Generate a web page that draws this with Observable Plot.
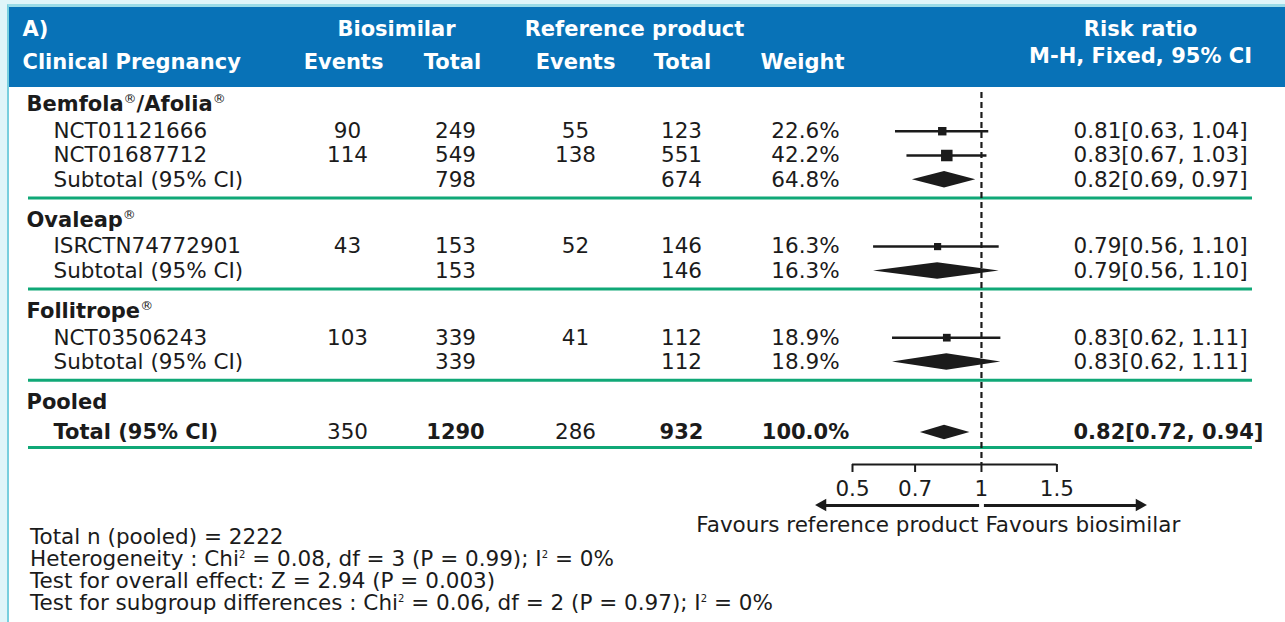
<!DOCTYPE html>
<html>
<head>
<meta charset="utf-8">
<script src="https://cdn.jsdelivr.net/npm/d3@7"></script>
<script src="https://cdn.jsdelivr.net/npm/@observablehq/plot@0.6"></script>
<style>
  html, body { margin: 0; padding: 0; background: #dff5f9; }
  #chart { position: relative; width: 1285px; height: 622px; overflow: hidden;
           font-family: "DejaVu Sans", Verdana, sans-serif; color: #1b1b1b; }
  #panel { position: absolute; left: 7px; top: 4px; right: 0; bottom: 0; background: #fff;
           border-left: 2px solid #78cfde; border-top: 3px solid #9adbe7; }
  #band { position: absolute; left: 9px; top: 7px; right: 0; height: 80px; background: #0872b7; }
  #chart svg { position: absolute; left: 0; top: 0; }
  #notes { position: absolute; left: 30px; top: 526px; font-size: 21.5px; line-height: 22px; white-space: nowrap; }
  #notes .sq { font-size: 10px; line-height: 0; vertical-align: 8px; }
</style>
</head>
<body>
<div id="chart">
  <div id="panel"></div>
  <div id="band"></div>
</div>
<script>
// ---------- data ----------
const groupNames = ["Bemfola®/Afolia®", "Ovaleap®", "Follitrope®"];

const studyIds   = ["NCT01121666", "NCT01687712", "ISRCTN74772901", "NCT03506243"];
const studyGroup = [0, 0, 1, 2];
const bioEvents  = [90, 114, 43, 103];
const bioTotal   = [249, 549, 153, 339];
const refEvents  = [55, 138, 52, 41];
const refTotal   = [123, 551, 146, 112];
const weights    = [22.6, 42.2, 16.3, 18.9];
const riskRatio  = [0.81, 0.83, 0.79, 0.83];
const ciLow      = [0.63, 0.67, 0.56, 0.62];
const ciHigh     = [1.04, 1.03, 1.10, 1.11];

const subBioTotal = [798, 153, 339];
const subRefTotal = [674, 146, 112];
const subWeight   = [64.8, 16.3, 18.9];
const subRatio    = [0.82, 0.79, 0.83];
const subLow      = [0.69, 0.56, 0.62];
const subHigh     = [0.97, 1.10, 1.11];

const pooledLabel    = "Pooled";
const totalBioEvents = 350;
const totalBioN      = 1290;
const totalRefEvents = 286;
const totalRefN      = 932;
const totalWeight    = 100.0;
const totalRatio     = 0.82;
const totalLow       = 0.72;
const totalHigh      = 0.94;

const axisTicks   = [0.5, 0.7, 1, 1.5];
const favourLeft  = "Favours reference product";
const favourRight = "Favours biosimilar";

const panelTag     = "A)";
const outcomeLabel = "Clinical Pregnancy";
const headerTop    = ["Biosimilar", "Reference product", "Risk ratio"];
const headerBottom = ["Events", "Total", "Events", "Total", "Weight"];
const headerMethod = "M-H, Fixed, 95% CI";

const notes = [
  "Total n (pooled) = 2222",
  "Heterogeneity : Chi² = 0.08, df = 3 (P = 0.99); I² = 0%",
  "Test for overall effect: Z = 2.94 (P = 0.003)",
  "Test for subgroup differences : Chi² = 0.06, df = 2 (P = 0.97); I² = 0%"
];

// ---------- layout ----------
const W = 1285, H = 622;
const FONT = '"DejaVu Sans", Verdana, sans-serif';
const INK = "#1b1b1b", GREEN = "#10a877", FS = 21.5, FS_HEAD = 21;
const COL = { left: 22, group: 26, label: 53, bioEv: 347, bioN: 455, refEv: 575, refN: 681, weight: 805, ratio: 1073, rule0: 28, rule1: 1252 };
const HEAD_COL = [396, 634, 1140];
const HEAD_COL2 = [343, 452, 575, 682, 802];
const ROW_PX = 24.29, TOP_PX = 104;

// vertical steps between consecutive row kinds (in text lines)
const GAP = { "head>study": 1.1, "study>study": 1, "study>sub": 1, "sub>sep": 0.75,
              "sep>head": 0.9, "head>total": 1.25, "total>sep": 0.62 };

const rows = [];
let pos = 0, prev = null;
function push(kind, d = {}) {
  if (prev) pos += GAP[prev + ">" + kind];
  rows.push({ kind, y: pos, ...d });
  prev = kind;
}
const ciText = (r, lo, hi) => `${r.toFixed(2)}[${lo.toFixed(2)}, ${hi.toFixed(2)}]`;

groupNames.forEach((g, gi) => {
  push("head", { label: g });
  studyIds.forEach((id, i) => {
    if (studyGroup[i] !== gi) return;
    push("study", { label: id, bioEv: bioEvents[i], bioN: bioTotal[i], refEv: refEvents[i], refN: refTotal[i],
                    w: weights[i], rr: riskRatio[i], lo: ciLow[i], hi: ciHigh[i] });
  });
  push("sub", { label: "Subtotal (95% CI)", bioN: subBioTotal[gi], refN: subRefTotal[gi],
                w: subWeight[gi], rr: subRatio[gi], lo: subLow[gi], hi: subHigh[gi] });
  push("sep");
});
push("head", { label: pooledLabel });
push("total", { label: "Total (95% CI)", bioEv: totalBioEvents, bioN: totalBioN, refEv: totalRefEvents, refN: totalRefN,
                w: totalWeight, rr: totalRatio, lo: totalLow, hi: totalHigh });
push("sep");

const lastSep = pos;
const yScale = { domain: [0, lastSep], range: [TOP_PX, TOP_PX + lastSep * ROW_PX], axis: null };

const heads = rows.filter(r => r.kind === "head");
const studies = rows.filter(r => r.kind === "study");
const subs = rows.filter(r => r.kind === "sub");
const totals = rows.filter(r => r.kind === "total");
const seps = rows.filter(r => r.kind === "sep");
const body = rows.filter(r => r.kind === "study" || r.kind === "sub");

const Y_HEAD1 = -3.09, Y_HEAD2 = -1.73, Y_METHOD = -2.0, Y_DASH_TOP = -0.49;
const Y_AXIS = lastSep + 0.7, Y_TICK_END = Y_AXIS + 0.33, Y_TICK_LABEL = lastSep + 1.73;
const Y_ARROW = lastSep + 2.39, Y_FAVOUR = lastSep + 3.21;

const txt = (data, opts) => Plot.text(data, { fontSize: FS, fill: INK, ...opts });
const headTxt = (data, opts) => Plot.text(data, { fontSize: FS_HEAD, fill: "#fff", fontWeight: "bold", text: d => d, ...opts });

// ---------- table columns ----------
const table = Plot.plot({
  width: W, height: H, margin: 0,
  x: { type: "identity", axis: null },
  y: yScale,
  style: { background: "transparent", fontFamily: FONT, overflow: "visible" },
  marks: [
    // header band text
    headTxt([panelTag], { x: COL.left, y: Y_HEAD1, textAnchor: "start" }),
    headTxt([outcomeLabel], { x: COL.left, y: Y_HEAD2, textAnchor: "start" }),
    headTxt(headerTop, { x: (d, i) => HEAD_COL[i], y: Y_HEAD1 }),
    headTxt(headerBottom, { x: (d, i) => HEAD_COL2[i], y: Y_HEAD2 }),
    headTxt([headerMethod], { x: HEAD_COL[2], y: Y_METHOD }),

    // group headings
    txt(heads, { x: COL.group, y: "y", text: "label", textAnchor: "start", fontWeight: "bold", fontSize: FS_HEAD }),

    // study and subtotal rows
    txt(body, { x: COL.label, y: "y", text: "label", textAnchor: "start" }),
    txt(studies, { x: COL.bioEv, y: "y", text: d => String(d.bioEv) }),
    txt(body, { x: COL.bioN, y: "y", text: d => String(d.bioN) }),
    txt(studies, { x: COL.refEv, y: "y", text: d => String(d.refEv) }),
    txt(body, { x: COL.refN, y: "y", text: d => String(d.refN) }),
    txt(body, { x: COL.weight, y: "y", text: d => d.w.toFixed(1) + "%" }),
    txt(body, { x: COL.ratio, y: "y", text: d => ciText(d.rr, d.lo, d.hi), textAnchor: "start" }),

    // pooled total row
    txt(totals, { x: COL.label, y: "y", text: "label", textAnchor: "start", fontWeight: "bold", fontSize: FS_HEAD }),
    txt(totals, { x: COL.bioEv, y: "y", text: d => String(d.bioEv) }),
    txt(totals, { x: COL.bioN, y: "y", text: d => String(d.bioN), fontWeight: "bold", fontSize: FS_HEAD }),
    txt(totals, { x: COL.refEv, y: "y", text: d => String(d.refEv) }),
    txt(totals, { x: COL.refN, y: "y", text: d => String(d.refN), fontWeight: "bold", fontSize: FS_HEAD }),
    txt(totals, { x: COL.weight, y: "y", text: d => d.w.toFixed(1) + "%", fontWeight: "bold", fontSize: FS_HEAD }),
    txt(totals, { x: COL.ratio, y: "y", text: d => ciText(d.rr, d.lo, d.hi), textAnchor: "start", fontWeight: "bold", fontSize: FS_HEAD }),

    // group separators
    Plot.ruleY(seps, { y: "y", x1: COL.rule0, x2: COL.rule1, stroke: GREEN, strokeWidth: 3 })
  ]
});

// ---------- forest plot (log risk ratio) ----------
const diamonds = [...subs, ...totals].flatMap((d, k) => {
  const h = d.kind === "total" ? 0.3 : 0.34;
  return [
    { z: k, x: d.lo, y1: d.y, y2: d.y },
    { z: k, x: d.rr, y1: d.y - h, y2: d.y + h },
    { z: k, x: d.hi, y1: d.y, y2: d.y }
  ];
});
const arrowTip = [0.41, 2.44];
const arrowHeads = arrowTip.flatMap((tip, k) => {
  const base = k === 0 ? tip * 1.062 : tip / 1.062;
  return [
    { z: k, x: tip, y1: Y_ARROW, y2: Y_ARROW },
    { z: k, x: base, y1: Y_ARROW - 0.26, y2: Y_ARROW + 0.26 }
  ];
});

const forest = Plot.plot({
  width: W, height: H, margin: 0,
  x: { type: "log", domain: [0.5, 1.5], range: [852, 1056.4], axis: null },
  y: yScale,
  r: { type: "sqrt", domain: [0, 100], range: [0, 10] },
  style: { background: "transparent", fontFamily: FONT, overflow: "visible" },
  marks: [
    // line of no effect
    Plot.ruleX([1], { y1: Y_DASH_TOP, y2: Y_AXIS, stroke: INK, strokeWidth: 2.2, strokeDasharray: "6,4" }),
    // study confidence intervals and weighted point estimates
    Plot.ruleY(studies, { y: "y", x1: "lo", x2: "hi", stroke: INK, strokeWidth: 2.5 }),
    Plot.dot(studies, { x: "rr", y: "y", r: "w", symbol: "square", fill: INK, stroke: null }),
    // subtotal and pooled diamonds
    Plot.areaY(diamonds, { x: "x", y1: "y1", y2: "y2", z: "z", fill: INK, curve: "linear" }),
    // axis
    Plot.ruleY([Y_AXIS], { x1: axisTicks[0], x2: axisTicks[axisTicks.length - 1], stroke: INK, strokeWidth: 2 }),
    Plot.ruleX(axisTicks, { x: d => d, y1: Y_AXIS, y2: Y_TICK_END, stroke: INK, strokeWidth: 2 }),
    txt(axisTicks, { x: d => d, y: Y_TICK_LABEL, text: d => String(d) }),
    // direction arrows
    Plot.ruleY([0], { y: () => Y_ARROW, x1: () => 0.99, x2: () => arrowTip[0] * 1.03, stroke: INK, strokeWidth: 3 }),
    Plot.ruleY([0], { y: () => Y_ARROW, x1: () => 1.016, x2: () => arrowTip[1] / 1.03, stroke: INK, strokeWidth: 3 }),
    Plot.areaY(arrowHeads, { x: "x", y1: "y1", y2: "y2", z: "z", fill: INK }),
    txt([favourLeft], { x: 1, y: Y_FAVOUR, text: d => d, textAnchor: "end", dx: -3 }),
    txt([favourRight], { x: 1, y: Y_FAVOUR, text: d => d, textAnchor: "start", dx: 4 })
  ]
});

// registered marks set as small raised glyphs
function raiseMarks(svg) {
  const ns = "http://www.w3.org/2000/svg";
  for (const t of svg.querySelectorAll("text")) {
    const s = t.textContent;
    if (!s.includes("®") || t.children.length) continue;
    const parts = s.split("®");
    t.textContent = "";
    parts.forEach((p, i) => {
      if (p) {
        const span = document.createElementNS(ns, "tspan");
        span.textContent = p;
        if (i > 0) span.setAttribute("dy", "8");
        t.appendChild(span);
      }
      if (i < parts.length - 1) {
        const r = document.createElementNS(ns, "tspan");
        r.textContent = "®";
        r.setAttribute("dy", "-8");
        r.setAttribute("font-size", "13");
        r.setAttribute("font-weight", "normal");
        t.appendChild(r);
      }
    });
  }
}
raiseMarks(table);

const chart = document.getElementById("chart");
chart.appendChild(table);
chart.appendChild(forest);

const notesDiv = document.createElement("div");
notesDiv.id = "notes";
notesDiv.innerHTML = notes.map(s => "<div>" + s.replace(/²/g, '<span class="sq">2</span>') + "</div>").join("");
chart.appendChild(notesDiv);
</script>
</body>
</html>
